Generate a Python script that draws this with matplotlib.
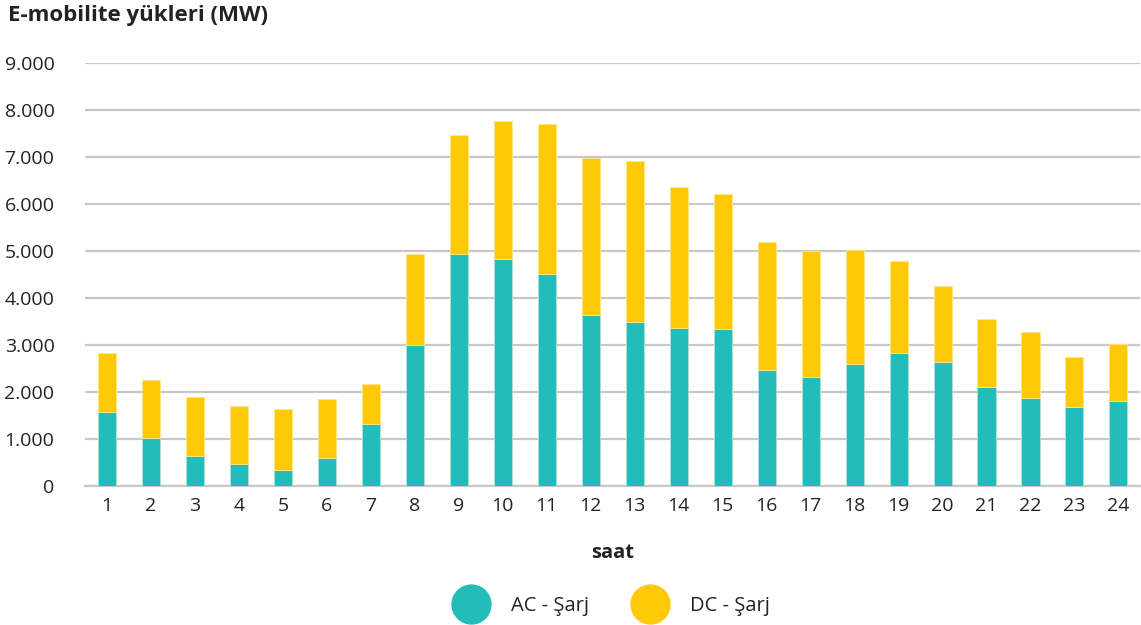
import numpy as np
import matplotlib.pyplot as plt
from matplotlib.lines import Line2D

plt.rcParams['font.family'] = ['Open Sans', 'DejaVu Sans']

hours = [str(h) for h in range(1, 25)]
ac_sarj = [1570, 1020, 640, 455, 340, 590, 1310, 3000, 4930, 4820, 4500, 3630,
           3470, 3355, 3335, 2460, 2300, 2595, 2815, 2630, 2105, 1865, 1675, 1810]
toplam = [2815, 2250, 1895, 1700, 1625, 1840, 2165, 4920, 7460, 7760, 7700, 6970,
          6915, 6350, 6205, 5180, 4985, 5015, 4775, 4255, 3545, 3275, 2740, 3005]
dc_sarj = [t - a for t, a in zip(toplam, ac_sarj)]
yticks = [0, 1000, 2000, 3000, 4000, 5000, 6000, 7000, 8000, 9000]
ytick_labels = ['0', '1.000', '2.000', '3.000', '4.000', '5.000', '6.000', '7.000', '8.000', '9.000']

teal = '#22BDBA'
yellow = '#FFC907'
grid = '#C8C8C8'
text = '#222222'

fig = plt.figure(figsize=(11.41, 6.25), dpi=100)
ax = fig.add_axes([0.0745, 0.223, 0.925, 0.677])

x = np.arange(len(hours))
ax.bar(x, ac_sarj, width=0.41, color=teal, edgecolor='#A8E4E2', linewidth=0.6, zorder=3)
ax.bar(x, dc_sarj, bottom=ac_sarj, width=0.41, color=yellow, edgecolor='#FFE58A',
       linewidth=0.6, zorder=3)

ax.set_xlim(-0.5, 23.5)
ax.set_ylim(0, 9000)
ax.set_yticks(yticks)
ax.set_yticklabels(ytick_labels)
ax.set_xticks(x)
ax.set_xticklabels(hours)
ax.tick_params(axis='both', length=0, labelsize=14, colors=text)
ax.tick_params(axis='y', pad=22)
ax.tick_params(axis='x', pad=8)
ax.yaxis.grid(True, color=grid, linewidth=1.6, zorder=0)
ax.set_axisbelow(True)
for s in ['top', 'right', 'left']:
    ax.spines[s].set_visible(False)
ax.spines['bottom'].set_color(grid)
ax.spines['bottom'].set_linewidth(1.6)

ax.set_xlabel('saat', fontsize=14.5, fontweight='bold', color=text, labelpad=20)
fig.text(0.007, 0.976, 'E-mobilite yükleri (MW)', fontsize=16, fontweight='bold',
         color=text, va='center', ha='left')

handles = [Line2D([], [], marker='o', linestyle='none', markersize=28, color=teal),
           Line2D([], [], marker='o', linestyle='none', markersize=28, color=yellow)]
fig.legend(handles, ['AC - Şarj', 'DC - Şarj'], loc='center', bbox_to_anchor=(0.535, 0.031),
           ncol=2, frameon=False, fontsize=14.5, handletextpad=1.0, columnspacing=2.0,
           labelcolor=text)

fig.savefig('out.png', dpi=100)
